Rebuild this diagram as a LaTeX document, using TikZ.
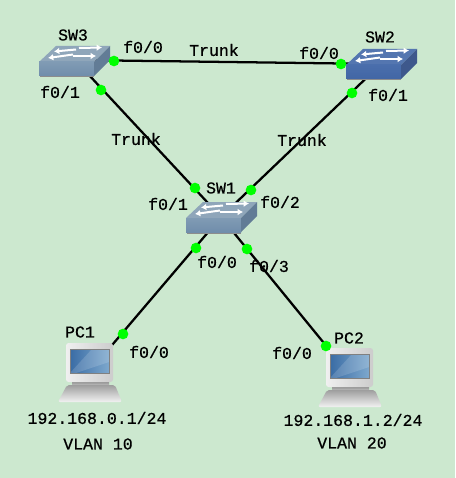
\documentclass[tikz,border=0pt]{standalone}
\usepackage{fontspec}
\setmainfont[FakeBold=0.6]{Liberation Mono}
\usetikzlibrary{arrows.meta}
\definecolor{bgc}{RGB}{204,232,207}
\definecolor{dotc}{RGB}{0,255,0}
\definecolor{swtopa}{RGB}{143,166,186}
\definecolor{swfronta}{RGB}{112,141,171}
\definecolor{swfrontalt}{RGB}{128,155,180}
\definecolor{swsidea}{RGB}{98,124,150}
\definecolor{swtopb}{RGB}{84,118,176}
\definecolor{swfrontb}{RGB}{66,102,165}
\definecolor{swfrontblt}{RGB}{74,110,172}
\definecolor{swsideb}{RGB}{62,88,140}
\definecolor{scrd}{RGB}{58,108,165}
\definecolor{scrl}{RGB}{125,168,205}
\tikzset{
  lab/.style={inner sep=0pt,font=\fontsize{12.4}{14}\selectfont},
  anchorbox/.style={inner sep=0pt,minimum size=2pt},
  wire/.style={line width=1.7pt,black},
  port/.style={circle,fill=dotc,inner sep=0pt,minimum size=8pt},
  swarrow/.style={white,line width=1.5pt,-{Latex[length=4pt,width=5pt]}}
}
% #1 x, #2 y of front top-left corner, #3 top, #4 front light, #5 front, #6 side
\newcommand{\swicon}[6]{%
\begin{scope}[shift={(#1,#2)}]
  \fill[black!45] (1,14) -- (55,14) -- (55,15.5) -- (1,15.5) -- cycle;
  \fill[#3] (0,0) -- (17,-16) -- (71,-16) -- (55,0) -- cycle;
  \shade[top color=#4,bottom color=#5] (0,0) rectangle (55,14);
  \fill[#6] (55,0) -- (71,-16) -- (71,-2) -- (55,14) -- cycle;
  \draw[swarrow] (37,-12.5) -- (15,-10.5);
  \draw[swarrow] (40,-14) -- (63,-14.5);
  \draw[swarrow] (34,-7.5) -- (9,-4);
  \draw[swarrow] (34,-6) -- (57,-6);
\end{scope}}
\newcommand{\pcicon}[2]{%
\begin{scope}[shift={(#1,#2)}]
  \shade[top color=black!42,bottom color=black!20] (72,382) rectangle (109,386);
  \shade[top color=black!38,bottom color=black!5,rounded corners=1.5pt] (67,385) -- (115,385) -- (122,402) -- (58,402) -- cycle;
  \shade[left color=black!6,right color=black!20,rounded corners=2pt] (66,343) rectangle (113,382);
  \shade[left color=scrd,right color=scrl] (70,349) rectangle (109,373);
  \fill[white,opacity=.15] (92,349) -- (109,349) -- (109,362) -- (76,373) -- (70,373) -- cycle;
  \draw[black!50,line width=.4pt] (70,349) rectangle (109,373);
\end{scope}}
\begin{document}
\begin{tikzpicture}[x=0.75pt,y=-0.75pt]
\useasboundingbox (0,0) rectangle (455,478);
\fill[bgc] (0,0) rectangle (455,478);
% anchors of the devices
\node[anchorbox] (sw3) at (75,60) {};
\node[anchorbox] (sw2) at (381,64) {};
\node[anchorbox] (sw1) at (221,217) {};
\node[anchorbox] (pc1) at (90,371) {};
\node[anchorbox] (pc2) at (350,375) {};
% connectors
\draw[wire] (sw3.center) -- (sw2.center);
\draw[wire] (sw3.center) -- (sw1.center);
\draw[wire] (sw2.center) -- (sw1.center);
\draw[wire] (sw1.center) -- (pc1.center);
\draw[wire] (sw1.center) -- (pc2.center);
% icons
\swicon{39}{62}{swtopa}{swfrontalt}{swfronta}{swsidea}
\swicon{346}{65}{swtopb}{swfrontblt}{swfrontb}{swsideb}
\swicon{186}{218}{swtopa}{swfrontalt}{swfronta}{swsidea}
\pcicon{0}{0}
\pcicon{260}{5}
% ports
\node[port] (p1) at (114,61) {};
\node[port] (p2) at (101,90) {};
\node[port] (p3) at (341,64) {};
\node[port] (p4) at (352,93) {};
\node[port] (p5) at (195,188) {};
\node[port] (p6) at (251,190) {};
\node[port] (p7) at (196,248) {};
\node[port] (p8) at (247,249) {};
\node[port] (p9) at (123,334) {};
\node[port] (p10) at (326,346) {};
% labels
\node[lab] (l1) at (73,35) {SW3};
\node[lab] (l2) at (143,47) {f0/0};
\node[lab] (l3) at (60,92) {f0/1};
\node[lab] (l4) at (214,50) {Trunk};
\node[lab] (l5) at (319,53) {f0/0};
\node[lab] (l6) at (380,37) {SW2};
\node[lab] (l7) at (388,95) {f0/1};
\node[lab] (l8) at (136,139) {Trunk};
\node[lab] (l9) at (302,140) {Trunk};
\node[lab] (l10) at (221,188) {SW1};
\node[lab] (l11) at (168,204) {f0/1};
\node[lab] (l12) at (280,202) {f0/2};
\node[lab] (l13) at (217,262) {f0/0};
\node[lab] (l14) at (269,266) {f0/3};
\node[lab] (l15) at (80,332) {PC1};
\node[lab] (l16) at (149,352) {f0/0};
\node[lab] (l17) at (97,418) {192.168.0.1/24};
\node[lab] (l18) at (98,444) {VLAN 10};
\node[lab] (l19) at (349,338) {PC2};
\node[lab] (l20) at (292,353) {f0/0};
\node[lab] (l21) at (353,420) {192.168.1.2/24};
\node[lab] (l22) at (352,443) {VLAN 20};
\end{tikzpicture}
\end{document}
